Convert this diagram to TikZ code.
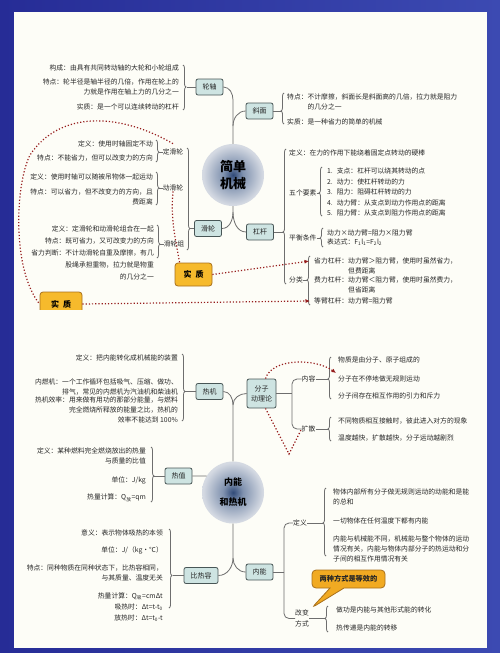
\documentclass[tikz,border=0pt]{standalone}
\usepackage{fontspec}
\setmainfont{Noto Sans CJK SC}
\usetikzlibrary{arrows.meta, positioning, calc, decorations.pathreplacing, shapes.callouts}

\definecolor{framedark}{RGB}{38,44,150}
\definecolor{framelight}{RGB}{60,74,178}
\definecolor{paper}{RGB}{253,253,247}
\definecolor{boxfill}{RGB}{206,228,226}
\definecolor{boxline}{RGB}{72,86,86}
\definecolor{linecol}{RGB}{110,110,110}
\definecolor{txtcol}{RGB}{38,38,38}
\definecolor{gold}{RGB}{246,186,44}
\definecolor{goldline}{RGB}{168,112,28}
\definecolor{calloutfill}{RGB}{241,170,34}
\definecolor{linkred}{RGB}{150,28,28}
\definecolor{glowA}{RGB}{48,74,120}
\definecolor{glowB}{RGB}{128,146,175}
\definecolor{glowC}{RGB}{212,217,226}
\definecolor{glowD}{RGB}{232,233,236}

\pgfdeclareradialshading{glow}{\pgfpoint{0bp}{0bp}}{%
  color(0bp)=(glowA); color(8bp)=(glowB); color(24bp)=(glowC); color(50bp)=(glowD)}

\begin{document}
\begin{tikzpicture}[x=1pt, y=-1pt,
    % Topic boxes
    topic/.style={
        rectangle,
        rounded corners=2pt,
        draw=boxline,
        line width=0.8pt,
        fill=boxfill,
        minimum height=16pt,
        inner xsep=6.5pt,
        text=txtcol,
        font=\fontsize{7}{10}\selectfont
    },
    % Centre circles
    hub/.style={
        circle,
        shading=glow,
        minimum size=62pt,
        inner sep=0pt,
        align=center,
        text=black
    },
    % Leaf text
    leaf/.style={inner sep=0pt, text=txtcol, font=\fontsize{6.8}{10}\selectfont},
    leafL/.style={leaf, anchor=east, align=right},
    leafR/.style={leaf, anchor=west, align=left},
    % Gold tags
    goldtag/.style={
        rectangle,
        rounded corners=3pt,
        draw=goldline,
        line width=0.8pt,
        fill=gold,
        text=black,
        font=\fontsize{8}{10}\selectfont\bfseries
    },
    calloutbox/.style={
        rectangle callout,
        callout pointer width=14pt,
        rounded corners=4pt,
        draw=goldline,
        line width=0.8pt,
        fill=calloutfill,
        minimum width=73pt,
        minimum height=18pt,
        text=txtcol,
        font=\fontsize{7.2}{9}\selectfont\bfseries
    },
    % Lines
    conn/.style={draw=linecol, line width=0.8pt},
    brc/.style={conn, decorate, decoration={brace, amplitude=3pt}},
    link/.style={draw=linkred, line width=1.2pt, dotted},
    linkarr/.style={link, -{Latex[length=4.5pt, width=4pt]}}
]

% === Frame ===
\useasboundingbox (0,0) rectangle (500,653);
\shade[left color=framedark, right color=framelight] (0,0) rectangle (500,653);
\fill[paper] (14,12) rectangle (487,648);

% === 简单机械: centre and topics ===
\node[hub, font=\fontsize{13}{17}\selectfont\bfseries] (jdjx) at (233,175) {简单\\机械};
\node[topic] (lunzhou) at (209.5,87) {轮轴};
\node[topic] (xiemian) at (259.5,111) {斜面};
\node[topic] (hualun) at (208,228.5) {滑轮};
\node[topic] (ganggan) at (260,232) {杠杆};

\draw[conn] (jdjx.north) -- (233,100) to[out=90, in=0] (lunzhou.east);
\draw[conn] (233,126) to[out=90, in=180] (xiemian.west);
\draw[conn] (jdjx.south) -- (233,212) to[out=-90, in=0] (hualun.east);
\draw[conn] (233,212) to[out=-90, in=180] (ganggan.west);

% === 轮轴 ===
\node[leafL] (lz1) at (179,68) {构成：由具有共同转动轴的大轮和小轮组成};
\node[leafL] (lz2) at (179,87) {特点：轮半径是轴半径的几倍，作用在轮上的\\力就是作用在轴上力的几分之一};
\node[leafL] (lz3) at (179,107) {实质：是一个可以连续转动的杠杆};
\draw[brc, decoration={aspect=0.49}] (183,65) -- (183,110);
\draw[conn] (lunzhou.west) -- ++(-9,0);

% === 斜面 ===
\node[leafR] (xm1) at (287,102) {特点：不计摩擦，斜面长是斜面高的几倍，拉力就是阻力\\\phantom{特点：}的几分之一};
\node[leafR] (xm2) at (287,122) {实质：是一种省力的简单的机械};
\draw[brc, decoration={aspect=0.42}] (284,124) -- (284,93);
\draw[conn] (xiemian.east) -- ++(8,0);

% === 滑轮 ===
\node[leafL] (dh1) at (153,144) {定义：使用时轴固定不动};
\node[leafL] (dh2) at (153,158) {特点：不能省力，但可以改变力的方向};
\node[leaf] (dinghl) at (173,152) {定滑轮};
\draw[brc, decoration={aspect=0.55}] (156,140) -- (156,162);
\draw[conn] (dinghl.west) -- ++(-4,0);

\node[leafL] (dd1) at (153,177) {定义：使用时轴可以随被吊物体一起运动};
\node[leafL] (dd2) at (153,197) {特点：可以省力，但不改变力的方向，且\\费距离};
\node[leaf] (donghl) at (173,188) {动滑轮};
\draw[brc, decoration={aspect=0.48}] (156,172) -- (156,205);
\draw[conn] (donghl.west) -- ++(-4,0);

\node[leafL] (hz1) at (154,229) {定义：定滑轮和动滑轮组合在一起};
\node[leafL] (hz2) at (154,241) {特点：既可省力，又可改变力的方向};
\node[leafL, font=\fontsize{6.8}{12}\selectfont] (hz3) at (154,265) {省力判断：不计动滑轮自重及摩擦，有几\\股绳承担重物，拉力就是物重\\的几分之一};
\node[leaf] (huazu) at (174,244) {滑轮组};
\draw[brc, decoration={aspect=0.58}] (157,225) -- (157,258);
\draw[conn] (huazu.west) -- ++(-4,0);

\draw[brc, decoration={aspect=0.79}] (187,148) -- (187,250);
\draw[conn] (hualun.west) -- ++(-4,0);

% === 杠杆 ===
\node[leafR] (gg1) at (289,153) {定义：在力的作用下能绕着固定点转动的硬棒};
\node[leafR] (wuge) at (289,193) {五个要素};
\node[leafR, font=\fontsize{6.8}{10.5}\selectfont] (gg2) at (327,192) {1.\hspace{4pt}支点：杠杆可以绕其转动的点\\2.\hspace{4pt}动力：使杠杆转动的力\\3.\hspace{4pt}阻力：阻碍杠杆转动的力\\4.\hspace{4pt}动力臂：从支点到动力作用点的距离\\5.\hspace{4pt}阻力臂：从支点到阻力作用点的距离};
\draw[brc, decoration={aspect=0.47}] (322,216) -- (322,167);
\draw[conn] (wuge.east) -- ++(3,0);

\node[leafR] (pingheng) at (289,238) {平衡条件};
\node[leafR, font=\fontsize{6.8}{9.5}\selectfont] (gg3) at (327,237.5) {动力×动力臂=阻力×阻力臂\\表达式：F\textsubscript{1}l\textsubscript{1}=F\textsubscript{2}l\textsubscript{2}};
\draw[brc, decoration={aspect=0.47}] (323,247) -- (323,228);
\draw[conn] (pingheng.east) -- ++(4,0);

\node[leafR] (fenlei) at (289,280) {分类};
\node[leafR] (shengli) at (314,265.5) {省力杠杆：动力臂＞阻力臂，使用时虽然省力，\\\phantom{省力杠杆：}但费距离};
\node[leafR] (feili) at (314,285) {费力杠杆：动力臂＜阻力臂，使用时虽然费力，\\\phantom{费力杠杆：}但省距离};
\node[leafR] (dengbi) at (314,301) {等臂杠杆：动力臂=阻力臂};
\draw[brc, decoration={aspect=0.51}] (310,305) -- (310,256);
\draw[conn] (fenlei.east) -- ++(4,0);

\draw[brc, decoration={aspect=0.385}] (286,284) -- (286,149);
\draw[conn] (ganggan.east) -- ++(10,0);

% === 实质 links ===
\node[goldtag, minimum width=37pt, minimum height=23pt] (shizhiA) at (193.5,274.5) {实\hspace{4pt}质};
\begin{scope}
    \clip (0,0) rectangle (500,309);
    \node[goldtag, minimum width=42pt, minimum height=24pt] (shizhiB) at (61,304) {实\hspace{4pt}质};
\end{scope}
\draw[link] (donghl.south) to[out=-95, in=100] ([xshift=5pt]shizhiA.north west);
\draw[linkarr] (shizhiA.east) -- ([shift={(-5pt,-4pt)}]shengli.north west);
\draw[link] ([yshift=5pt]dinghl.north) .. controls (120,113) and (60,110) .. (30,155) .. controls (15,185) and (12,270) .. (shizhiB.west);
\draw[linkarr] (shizhiB.east) -- ([xshift=-4pt]dengbi.west);

% === 内能和热机: centre and topics ===
\node[hub, font=\fontsize{9}{20}\selectfont\bfseries] (nnrj) at (233,492.5) {内能\\和热机};
\node[topic] (reji) at (209.5,391.5) {热机};
\node[topic, inner xsep=4pt, minimum height=29pt, align=center] (fenzi) at (261.5,393.5) {分子\\动理论};
\node[topic] (rezhi) at (178.5,476) {热值};
\node[topic] (birong) at (201,575.5) {比热容};
\node[topic] (neineng) at (259.5,572) {内能};

\draw[conn] (nnrj.north) -- (233,405) to[out=90, in=0] (reji.east);
\draw[conn] (233,405) to[out=90, in=180] (fenzi.west);
\draw[conn] (rezhi.east) -- (nnrj.148);
\draw[conn] (nnrj.south) -- (233,558) to[out=-90, in=0] (birong.east);
\draw[conn] (233,558) to[out=-90, in=180] (neineng.west);

% === 热机 ===
\node[leafL] (rj1) at (178,358) {定义：把内能转化成机械能的装置};
\node[leafL] (rj2) at (178,386.5) {内燃机：一个工作循环包括吸气、压缩、做功、\\排气，常见的内燃机为汽油机和柴油机};
\node[leafL] (rj3) at (178,410) {热机效率：用来做有用功的那部分能量，与燃料\\完全燃烧所释放的能量之比，热机的\\效率不能达到 100\%};
\draw[brc, decoration={aspect=0.56}] (182,354) -- (182,421);
\draw[conn] (reji.west) -- ++(-11,0);

% === 分子动理论 ===
\draw[conn] (fenzi.east) -- (292,393.5);
\node[leaf] (neirong) at (308.5,379) {内容};
\node[leaf] (kuosan) at (308.5,429) {扩散};
\draw[conn, rounded corners=5pt] (292,393.5) |- (neirong.west);
\draw[conn, rounded corners=5pt] (292,393.5) |- (kuosan.west);

\node[leafR] (nr1) at (338,360) {物质是由分子、原子组成的};
\node[leafR] (wuguize) at (338,379) {分子在不停地做无规则运动};
\node[leafR] (nr3) at (338,396) {分子间存在相互作用的引力和斥力};
\draw[brc, decoration={aspect=0.476}] (331,399) -- (331,357);
\draw[conn] (neirong.east) -- ++(12,0);

\node[leafR] (ks1) at (338,421) {不同物质相互接触时，彼此进入对方的现象};
\node[leafR] (ks2) at (338,438) {温度越快，扩散越快，分子运动越剧烈};
\draw[brc, decoration={aspect=0.5}] (331,441) -- (331,417);
\draw[conn] (kuosan.east) -- ++(12,0);

\draw[linkarr] ([xshift=4pt]fenzi.north) .. controls (272,358) and (315,358) .. ([shift={(-2pt,6pt)}]wuguize.west);
\draw[link] ([xshift=4pt]fenzi.south) -- (289,454) -- (kuosan.west);

% === 热值 ===
\node[leafL] (rz1) at (146,455.5) {定义：某种燃料完全燃烧放出的热量\\与质量的比值};
\node[leafL] (rz2) at (146,480) {单位：J/kg};
\node[leafL] (rz3) at (146,498) {热量计算：Q\textsubscript{放}=qm};
\draw[brc, decoration={aspect=0.527}] (151,447) -- (151,502);
\draw[conn] (rezhi.west) -- ++(-12,0);

% === 比热容 ===
\node[leafL] (bh1) at (163,533) {意义：表示物体吸热的本领};
\node[leafL] (bh2) at (163,550) {单位：J/（kg·℃）};
\node[leafL] (bh3) at (163,572.5) {特点：同种物质在同种状态下，比热容相同，\\与其质量、温度无关};
\node[leafL, font=\fontsize{6.8}{11}\selectfont] (bh4) at (163,607) {热量计算：Q\textsubscript{吸}=cmΔt\\吸热时：Δt=t-t\textsubscript{0}\\放热时：Δt=t\textsubscript{0}-t};
\draw[brc, decoration={aspect=0.589}] (169,529) -- (169,608);
\draw[conn] (birong.west) -- ++(-11,0);

% === 内能 ===
\draw[conn] (neineng.east) -- (284,572);
\node[leaf] (dingyi) at (300,523) {定义};
\node[leaf, align=center, font=\fontsize{6.8}{11}\selectfont] (gaibian) at (302,618.5) {改变\\方式};
\draw[conn, rounded corners=5pt] (284,572) |- (dingyi.west);
\draw[conn, rounded corners=5pt] (284,572) |- (gaibian.west);

\node[leafR] (dy1) at (333,497) {物体内部所有分子做无规则运动的动能和是能\\的总和};
\node[leafR] (dy2) at (333,521) {一切物体在任何温度下都有内能};
\node[leafR] (dy3) at (333,549) {内能与机械能不同，机械能与整个物体的运动\\情况有关，内能与物体内部分子的热运动和分\\子间的相互作用情况有关};
\draw[brc, decoration={aspect=0.485}] (326,556) -- (326,488);
\draw[conn] (dingyi.east) -- ++(16,0);

\node[leafR] (gb1) at (336,610) {做功是内能与其他形式能的转化};
\node[leafR] (gb2) at (336,628) {热传递是内能的转移};
\draw[brc, decoration={aspect=0.52}] (328,632) -- (328,606);
\draw[conn] (gaibian.east) -- ++(16,0);

\node[calloutbox, callout absolute pointer={([shift={(10pt,2pt)}]gaibian.north)}] (dengxiao) at (348.5,579) {两种方式是等效的};

\end{tikzpicture}
\end{document}
